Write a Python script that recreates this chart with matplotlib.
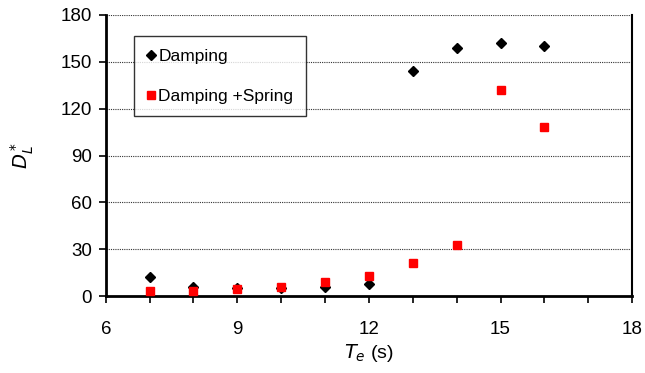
import numpy as np
import matplotlib.pyplot as plt

plt.rcParams['font.family'] = ['Liberation Sans', 'DejaVu Sans']

# wave period T_e (s)
te = [7, 8, 9, 10, 11, 12, 13, 14, 15, 16]
damping = [12, 6, 5, 5, 6, 8, 144, 159, 162, 160]
damping_spring = [3.5, 3.5, 4.5, 6, 9, 13, 21, 33, 132, 108]

fig = plt.figure(figsize=(6.45, 3.73), dpi=100)
ax = fig.add_axes([0.164, 0.206, 0.816, 0.754])

for y in range(30, 181, 30):
    ax.axhline(y, color='#333333', linestyle=(0, (1, 1)), linewidth=0.8, zorder=1)

ax.plot(te, damping, linestyle='none', marker='D', markersize=5,
        color='black', label='Damping', zorder=3)
ax.plot(te, damping_spring, linestyle='none', marker='s', markersize=5.6,
        color='#ff0000', label='Damping +Spring', zorder=3)

ax.set_xlim(6, 18)
ax.set_ylim(0, 180)
ax.set_xticks([6, 9, 12, 15, 18])
ax.set_xticks(np.arange(6, 19, 1), minor=True)
ax.set_yticks(np.arange(0, 181, 30))
ax.tick_params(axis='both', which='both', direction='out', labelsize=13.5,
               width=1.2, color='black')
ax.tick_params(axis='both', which='major', length=5)
ax.tick_params(axis='x', which='minor', length=5)
ax.tick_params(axis='x', pad=13)
ax.tick_params(axis='y', pad=5)

ax.spines['top'].set_visible(False)
ax.spines['left'].set_linewidth(2)
ax.spines['bottom'].set_linewidth(2)
ax.spines['right'].set_linewidth(1.5)

ax.set_xlabel(r'$T_e$ (s)', fontsize=14, labelpad=3)
ax.set_ylabel(r'$D_L^*$', fontsize=14, labelpad=18)

leg = ax.legend(loc='upper left', bbox_to_anchor=(0.053, 0.925), fontsize=12.5,
                frameon=True, fancybox=False, borderpad=0.72, labelspacing=1.45,
                handletextpad=0.1, handlelength=0.6, borderaxespad=0)
leg.get_frame().set_edgecolor('black')
leg.get_frame().set_linewidth(1.0)

fig.savefig('out.png', dpi=100)
